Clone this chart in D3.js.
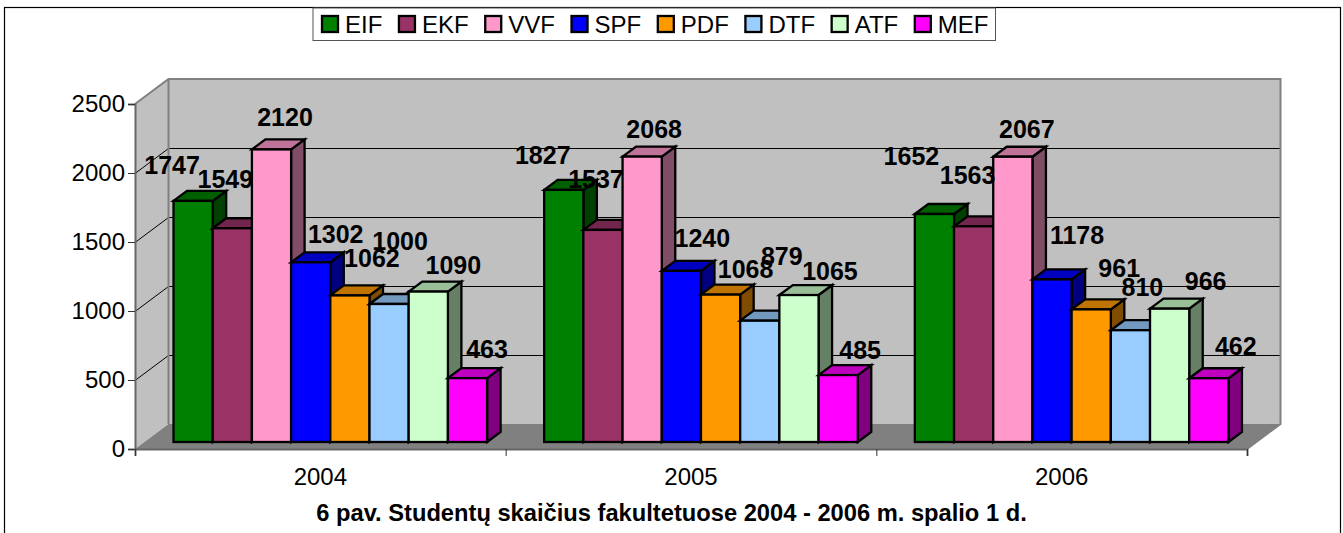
<!DOCTYPE html>
<html><head><meta charset="utf-8">
<script src="https://cdn.jsdelivr.net/npm/d3@7"></script>
<style>html,body{margin:0;padding:0;background:#fff;overflow:hidden}svg{display:block}text{font-family:"Liberation Sans",Arial,sans-serif;fill:#000}</style>
</head><body><svg id="c" width="1343" height="533"></svg>
<script>
const years = ["2004","2005","2006"];
const faculties = ["EIF","EKF","VVF","SPF","PDF","DTF","ATF","MEF"];
const colors = ["#008000","#993366","#ff99cc","#0000ff","#ff9900","#99ccff","#ccffcc","#ff00ff"];
const values2004 = [1747,1549,2120,1302,1062,1000,1090,463];
const values2005 = [1827,1537,2068,1240,1068,879,1065,485];
const values2006 = [1652,1563,2067,1178,961,810,966,462];
const yTicks = [0,500,1000,1500,2000,2500];
const titleText = "6 pav. Studentų skaičius fakultetuose 2004 - 2006 m. spalio 1 d.";
const yearValues = [values2004,values2005,values2006];
// label displacement from each bar's top centre
const nudge2004 = [[-21,-26],[-7,-40],[13.5,-23],[25,-19],[22,-28],[11,-53.5],[25,-17],[19.5,-20]];
const nudge2005 = [[-21,-25],[-7,-41],[12,-18],[21,-23],[25,-16],[22,-55],[31,-14.5],[22,-16]];
const nudge2006 = [[-23,-48.5],[-6,-42],[14,-18],[25,-35],[28,-32],[12,-34],[36,-18],[27,-23]];
const yearNudges = [nudge2004,nudge2005,nudge2006];

const svg = d3.select("#c");
const L=135,R=1247,B=449,T=104,DX=33.5,DY=25;
const y = d3.scaleLinear().domain([0,2500]).range([B,T]);
const x0 = d3.scaleBand().domain(years).range([L,R]);
const x1 = d3.scaleBand().domain(faculties).range([38.5,38.5+313.6]);
const barLift=7, bdx=13.5, bdy=10;

// outer frame
svg.append("rect").attr("x",4.5).attr("y",7.5).attr("width",1336).attr("height",600).attr("fill","#fff").attr("stroke","#000").attr("stroke-width",1.2);

// walls and floor
const poly=(pts,fill)=>svg.append("polygon").attr("points",pts.map(p=>p.join(",")).join(" ")).attr("fill",fill);
poly([[L,B],[L+DX,B-DY],[L+DX,T-DY],[L,T]],"#c0c0c0");
poly([[L+DX,B-DY],[R+DX,B-DY],[R+DX,T-DY],[L+DX,T-DY]],"#c0c0c0");
poly([[L,B],[L+DX,B-DY],[R+DX,B-DY],[R,B]],"#808080");

// gridlines
const grid=svg.append("g").attr("transform","translate(0,0.5)");
yTicks.filter(d=>d>0&&d<2500).forEach(d=>{
  grid.append("path").attr("d",d3.line()([[L,y(d)],[L+DX,y(d)-DY],[R+DX,y(d)-DY]])).attr("fill","none").attr("stroke","#000").attr("stroke-width",1);
});
// wall edges
const edge=svg.append("g").attr("fill","none").attr("stroke","#808080").attr("stroke-width",2);
edge.append("path").attr("d",d3.line()([[L,T],[L+DX,T-DY],[R+DX,T-DY],[R+DX,B-DY],[R,B]]));
edge.append("path").attr("d",d3.line()([[L+DX,T-DY],[L+DX,B-DY]]));

// bars, left to right so that each covers its neighbour's side
const shade=(c,k)=>{const o=d3.rgb(c);return d3.rgb(o.r*k,o.g*k,o.b*k).formatHex();};
years.forEach((yr,g)=>{
  const grp=svg.append("g");
  faculties.forEach((f,i)=>{
    const v=yearValues[g][i];
    const xa=x0(yr)+x1(f), xb=xa+x1.bandwidth(), yt=y(v)-barLift, yb=y(0)-barLift;
    const b=grp.append("g").attr("stroke","#000").attr("stroke-width",2.3).attr("stroke-linejoin","miter");
    b.append("polygon").attr("points",[[xb,yb],[xb+bdx,yb-bdy],[xb+bdx,yt-bdy],[xb,yt]].join(" ")).attr("fill",shade(colors[i],.5));
    b.append("polygon").attr("points",[[xa,yt],[xa+bdx,yt-bdy],[xb+bdx,yt-bdy],[xb,yt]].join(" ")).attr("fill",shade(colors[i],.75));
    b.append("rect").attr("x",xa).attr("y",yt).attr("width",xb-xa).attr("height",yb-yt).attr("fill",colors[i]);
  });
});

// axes
const ya=svg.append("g").attr("transform",`translate(${L},0)`).call(d3.axisLeft(y).tickValues(yTicks).tickSize(7).tickPadding(3).tickFormat(d3.format("d")));
const xa=svg.append("g").attr("transform",`translate(0,${B})`).call(d3.axisBottom(d3.scaleLinear().domain([0,3]).range([L,R])).tickValues([0,1,2,3]).tickSize(7).tickFormat(""));
[ya,xa].forEach(a=>{a.select(".domain").attr("stroke","#666").attr("stroke-width",2);a.selectAll(".tick line").attr("stroke","#333");});
ya.selectAll("text").attr("font-size",24).style("font-family",'"Liberation Sans",Arial,sans-serif').attr("fill","#000");
svg.append("g").selectAll("text").data(years).join("text").attr("x",d=>x0(d)+x0.bandwidth()/2).attr("y",485).attr("text-anchor","middle").attr("font-size",24).text(d=>d);

// data labels
years.forEach((yr,g)=>{
  faculties.forEach((f,i)=>{
    const v=yearValues[g][i],n=yearNudges[g][i];
    svg.append("text").attr("x",x0(yr)+x1(f)+x1.bandwidth()/2+n[0]).attr("y",y(v)-7.5+n[1])
      .attr("text-anchor","middle").attr("font-size",25).attr("font-weight","bold").text(v);
  });
});

// title
svg.append("text").attr("x",671.5).attr("y",521).attr("text-anchor","middle").attr("font-size",23.7).attr("font-weight","bold").text(titleText);

// legend
const lg=svg.append("g");
const box=lg.append("rect").attr("x",313).attr("y",8).attr("height",32.5).attr("fill","#fff").attr("stroke","#555").attr("stroke-width",1);
let cx=322;
let textEnd=0;
faculties.forEach((f,i)=>{
  lg.append("rect").attr("x",cx).attr("y",16).attr("width",16).attr("height",16).attr("fill",colors[i]).attr("stroke","#000").attr("stroke-width",2.3);
  const t=lg.append("text").attr("x",cx+23).attr("y",33).attr("font-size",24).text(f);
  const w=t.node().getComputedTextLength();
  textEnd=cx+23+w;
  cx+=18+21.6+w;
});
box.attr("width",textEnd+7-313);
</script></body></html>
